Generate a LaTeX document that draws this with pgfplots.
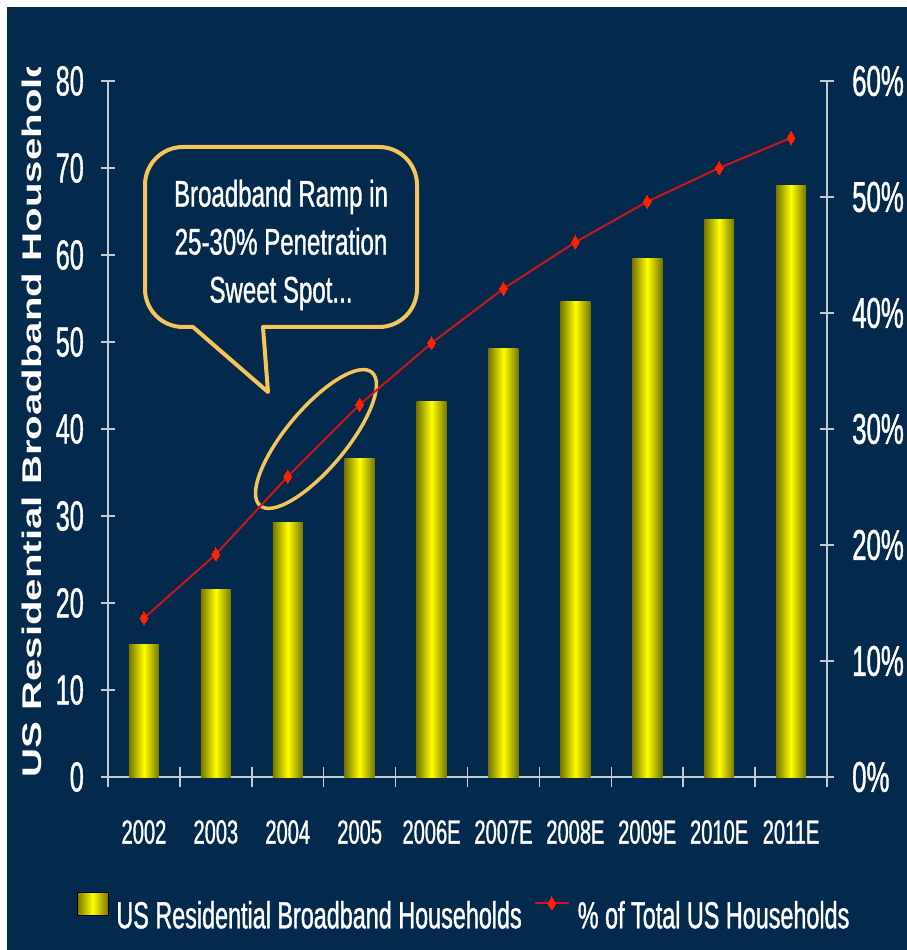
\documentclass[border=0pt]{standalone}
\usepackage{fontspec}
\setmainfont{Liberation Sans}
\newfontfamily\tickf{Liberation Sans}[FakeStretch=0.6, FakeBold=1]
\newfontfamily\legf{Liberation Sans}[FakeStretch=0.62, FakeBold=1]
\newfontfamily\labf{Liberation Sans}[FakeStretch=1.49]
\newfontfamily\callf{Liberation Sans}[FakeStretch=0.65, FakeBold=1]
\usepackage{pgfplots}
\pgfplotsset{compat=1.18}
\definecolor{navy}{HTML}{03294C}
\definecolor{axgray}{HTML}{C5CAD0}
\definecolor{barhi}{HTML}{FFFF00}
\definecolor{barlo}{HTML}{767600}
\definecolor{linered}{HTML}{C8161B}
\definecolor{markred}{HTML}{FF2200}
\definecolor{gold}{HTML}{F5C55A}
\pgfplotsset{mybar/.style={ybar, bar width=30pt, bar shift=0pt, draw=none, left color=barlo, right color=barlo, middle color=barhi}}
\begin{document}
\begin{tikzpicture}[x=1pt,y=1pt]
\useasboundingbox (-108,-173) rectangle (799,777);
\fill[white] (-108,-173) rectangle (799,777);
\fill[navy] (-101,-173) rectangle (799,770);
\begin{axis}[
  at={(0,0)}, anchor=south west, scale only axis, width=719pt, height=696pt,
  xmin=-0.5, xmax=9.5, ymin=0, ymax=80,
  axis y line*=left, axis x line*=bottom,
  axis line style={axgray, line width=2pt, -},
  xtick={0,...,9},
  xticklabels={2002,2003,2004,2005,2006E,2007E,2008E,2009E,2010E,2011E},
  major x tick style={draw=none},
  minor xtick={-0.5,0.5,...,9.5},
  ytick={0,10,...,80},
  tick align=center, major tick length=14pt, minor tick length=20pt,
  tick style={axgray, line width=1.5pt},
  minor tick style={axgray, line width=1.5pt},
  /pgf/number format/assume math mode=true,
  xticklabel style={font=\tickf\fontsize{33.5}{36}\selectfont, text=white, anchor=north, inner sep=0pt, yshift=-36pt},
  yticklabel style={font=\tickf\fontsize{42}{44}\selectfont, text=white, anchor=east, inner sep=0pt, xshift=-17pt},
  clip=false,
]
\addplot[mybar] coordinates {(0,15.2)};
\addplot[mybar] coordinates {(1,21.5)};
\addplot[mybar] coordinates {(2,29.3)};
\addplot[mybar] coordinates {(3,36.6)};
\addplot[mybar] coordinates {(4,43.2)};
\addplot[mybar] coordinates {(5,49.2)};
\addplot[mybar] coordinates {(6,54.6)};
\addplot[mybar] coordinates {(7,59.6)};
\addplot[mybar] coordinates {(8,64.1)};
\addplot[mybar] coordinates {(9,68.0)};
\end{axis}
% y label (clipped at top as in the original)
\begin{scope}
\clip (-108,-173) rectangle (799,709);
\node[rotate=90, anchor=base west, inner sep=0pt, text=white, font=\labf\bfseries\fontsize{27}{29}\selectfont] at (-66,-1) {US Residential Broadband Households};
\end{scope}
% callout
\draw[gold, line width=4pt, line join=round] (155,450) -- (160,385) -- (85,450) -- (75,450)
  arc[start angle=270, end angle=180, radius=38] -- (37,592)
  arc[start angle=180, end angle=90, radius=38] -- (271,630)
  arc[start angle=90, end angle=0, radius=38] -- (309,488)
  arc[start angle=0, end angle=-90, radius=38] -- cycle;
\node[align=center, text=white, inner sep=0pt, font=\callf\fontsize{37}{48}\selectfont] at (173,532) {Broadband Ramp in\\25-30\% Penetration\\Sweet Spot...};
\draw[gold, line width=3.5pt, rotate around={50:(208,338)}] (208,338) ellipse [x radius=87, y radius=30];
\begin{axis}[
  at={(0,0)}, anchor=south west, scale only axis, width=719pt, height=696pt,
  xmin=-0.5, xmax=9.5, ymin=0, ymax=60,
  axis y line*=right, axis x line=none,
  axis line style={axgray, line width=2pt, -},
  ytick={0,10,...,60},
  tick align=center, major tick length=14pt,
  tick style={axgray, line width=1.5pt},
  /pgf/number format/assume math mode=true,
  yticklabel={\pgfmathprintnumber{\tick}\%},
  yticklabel style={font=\tickf\fontsize{43}{45}\selectfont, text=white, anchor=west, inner sep=0pt, xshift=18pt},
  clip=false,
  legend columns=2,
  legend style={at={(-0.0431,-0.1925)}, anchor=west, draw=none, fill=none, inner sep=0pt, outer sep=0pt,
    font=\legf\fontsize{37.7}{40}\selectfont, text=white,
    nodes={inner sep=0pt},
    /tikz/every odd column/.style={column sep=8pt},
    /tikz/every even column/.style={column sep=12pt}},
]
\addlegendimage{legend image code/.code={\fill[left color=barlo, right color=barlo, middle color=barhi] (0pt,0pt) rectangle (31pt,23pt);}}
\addlegendentry{US Residential Broadband Households}
\addplot[color=linered, line width=2pt, mark=diamond*, mark size=6.5pt,
  mark options={fill=markred, draw=markred, line width=0pt, xscale=0.8},
  legend image code/.code={\draw[mark repeat=2, mark phase=2, color=linered, line width=2pt, mark=diamond*, mark size=6.5pt, mark options={fill=markred, draw=markred, line width=0pt, xscale=0.8}] plot coordinates {(0pt,12pt) (17pt,12pt) (34pt,12pt)};}]
  coordinates {(0,13.7) (1,19.2) (2,25.9) (3,32.1) (4,37.4) (5,42.1) (6,46.1) (7,49.6) (8,52.5) (9,55.1)};
\addlegendentry{\% of Total US Households}
\end{axis}
\end{tikzpicture}
\end{document}
